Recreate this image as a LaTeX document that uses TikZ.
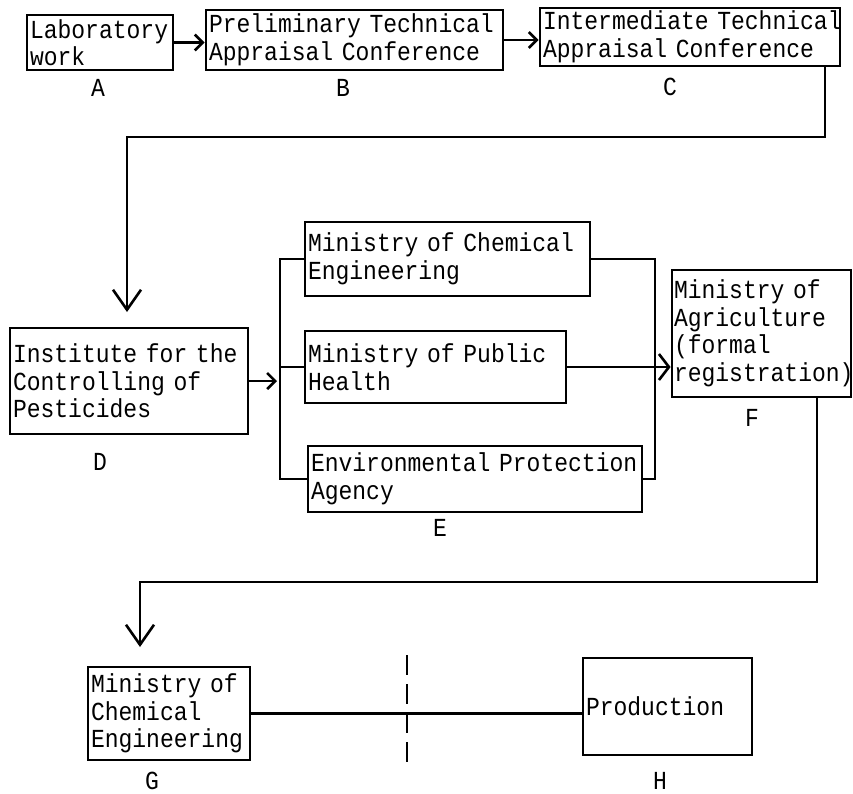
\documentclass[tikz,border=0pt]{standalone}
\usepackage{fontspec}
\newfontfamily\typer[FakeStretch=0.885,WordSpace={1,0,0}]{Liberation Mono}
\usetikzlibrary{arrows.meta}
\hyphenpenalty=10000
\begin{document}
\begin{tikzpicture}[x=1pt,y=-1pt,
  every node/.style={font=\typer\fontsize{26}{27.5}\selectfont},
  box/.style={draw,line width=2.8pt,align=left,inner xsep=3pt,inner ysep=0pt,text width=#1},
  tag/.style={inner sep=0pt},
  link/.style={line width=2.6pt},
  arr/.style={link,-{Straight Barb[length=8pt,width=16pt]}},
  midarr/.style={link,-{Straight Barb[length=10pt,width=26pt]}},
  bigarr/.style={link,-{Straight Barb[length=20pt,width=28pt]}}]
\useasboundingbox (0,0) rectangle (853,793);
% first row
\node[box=140pt,minimum height=55pt] (A) at (100,42.5) {Laboratory\\work};
\node[box=291pt,minimum height=60pt] (B) at (354.5,40) {Preliminary~Technical\\Appraisal~Conference};
\node[box=294pt,minimum height=58pt] (C) at (690,37) {Intermediate~Technical\\Appraisal~Conference};
\node[tag] (labA) at (98,88) {A};
\node[tag] (labB) at (343,88) {B};
\node[tag] (labC) at (670,87) {C};
\draw[arr] (A.east) -- (A.east -| B.west);
\draw[arr] (B.east) -- (B.east -| C.west);
% institute and the three ministries
\node[box=232pt,minimum height=106pt] (D) at (129,381) {Institute~for~the\\Controlling of\\Pesticides};
\node[box=279pt,minimum height=74pt] (E1) at (447.5,259) {Ministry~of~Chemical\\Engineering};
\node[box=255pt,minimum height=72pt] (E2) at (435.5,367) {Ministry~of~Public\\Health};
\node[box=328pt,minimum height=66pt] (E3) at (475,479) {Environmental~Protection\\Agency};
\node[box=175pt,inner xsep=2pt,minimum height=127pt] (F) at (761.5,333.5) {Ministry of\\Agriculture\\(formal\\registration)};
\node[tag] (labD) at (100,462) {D};
\node[tag] (labE) at (440,528) {E};
\node[tag] (labF) at (752,418) {F};
\coordinate (cd1) at (825,137);
\coordinate (cd2) at (127,137);
\draw[bigarr] (C.south -| cd1) -- (cd1) -- (cd2) -- ++(0,175) coordinate (dtip);
\coordinate (bl) at (280,0);
\coordinate (br) at (655,0);
\draw[arr] (D.east) -- ([xshift=-3pt]D.east -| bl);
\draw[link] (E1.west) -- (E1.west -| bl) -- (E3.west -| bl) -- (E3.west);
\draw[line width=1.4pt] (E2.west -| bl) -- (E2.west);
\draw[link] (E1.east) -- (E1.east -| br) -- (E3.east -| br) -- (E3.east);
\draw[midarr] (E2.east) -- (E2.east -| F.west);
% last row
\node[box=156pt,minimum height=93pt] (G) at (169,713.5) {Ministry~of\\Chemical\\Engineering};
\node[box=163pt,minimum height=97pt] (H) at (667.5,706.5) {Production};
\node[tag] (labG) at (152,781) {G};
\node[tag] (labH) at (660,781) {H};
\coordinate (fg1) at (817,582);
\coordinate (fg2) at (140,582);
\draw[bigarr] (F.south -| fg1) -- (fg1) -- (fg2) -- ++(0,65) coordinate (gtip);
\draw[link] (G.east) -- (G.east -| H.west);
\coordinate (cut) at (407,655);
\draw[line width=2pt,dash pattern=on 20pt off 9pt] (cut) -- ++(0,107);
\end{tikzpicture}
\end{document}
